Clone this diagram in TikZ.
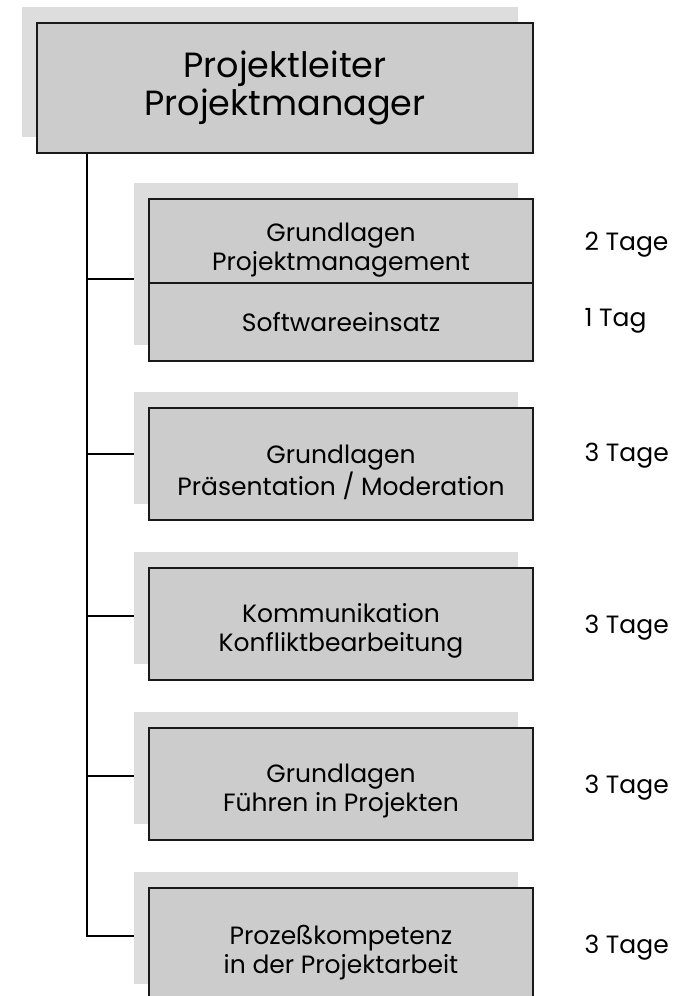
\documentclass[tikz,border=0pt]{standalone}
\usepackage{fontspec}
\setmainfont{Poppins}
\usetikzlibrary{positioning, shadows, backgrounds}
\definecolor{boxgray}{HTML}{CCCCCC}
\definecolor{shadegray}{HTML}{DDDDDD}
\tikzset{
  schatten/.style={general shadow={fill=shadegray, draw=none, shadow xshift=-15pt, shadow yshift=16pt}},
  leiter/.style={draw=black!90, line width=1.4pt, fill=boxgray, outer sep=0pt, inner sep=0pt,
    minimum width=496pt, minimum height=130pt, align=center, schatten,
    font=\fontsize{35}{38}\selectfont},
  kurs/.style={draw=black!90, line width=1.4pt, fill=boxgray, outer sep=0pt, inner sep=0pt,
    minimum width=384pt, minimum height=112pt, align=center, schatten,
    font=\fontsize{25}{29}\selectfont},
  zwei/.style={text height=#1, text depth=0pt},
  zwei/.default=54pt,
  tage/.style={font=\fontsize{25}{29}\selectfont, text depth=0pt},
  ast/.style={line width=1.2pt, black},
}

\begin{document}
\begin{tikzpicture}[x=1pt, y=-1pt]
\clip (0,0) rectangle (687,996);

% Leiter
\node[leiter] (leiter) at (285,88) {Projektleiter\\Projektmanager};

% Seminare
\node[kurs, minimum height=78pt] (soft) at (341,322) {Softwareeinsatz};
\node[kurs, zwei=58pt, minimum height=84pt, above=0pt of soft] (pm) {Grundlagen\\Projektmanagement};
\node[kurs, zwei=62pt, below=47pt of soft] (prae) {Grundlagen\\Präsentation / Moderation};
\node[kurs, zwei, below=48pt of prae] (komm) {Kommunikation\\Konfliktbearbeitung};
\node[kurs, zwei, below=48pt of komm] (fuehr) {Grundlagen\\Führen in Projekten};
\node[kurs, zwei=58pt, below=48pt of fuehr] (proz) {Prozeßkompetenz\\in der Projektarbeit};

% Dauer
\node[tage, right=48pt of pm] (t1) {2 Tage};
\node[tage, right=48pt of soft, yshift=5pt] (t2) {1 Tag};
\node[tage, right=48pt of prae, yshift=12pt] (t3) {3 Tage};
\node[tage, right=48pt of komm] (t4) {3 Tage};
\node[tage, right=48pt of fuehr] (t5) {3 Tage};
\node[tage, right=48pt of proz] (t6) {3 Tage};

% Verbindungen
\coordinate (stamm) at ([xshift=50pt]leiter.south west);
\begin{scope}[on background layer]
  \draw[ast] (stamm) |- ([yshift=8pt]proz.west);
  \foreach \k/\dy in {soft/43, prae/10, komm/8, fuehr/8}
    \draw[ast] ([yshift=\dy pt]\k.west) -- ([yshift=\dy pt]\k.west -| stamm);
\end{scope}
\end{tikzpicture}
\end{document}
